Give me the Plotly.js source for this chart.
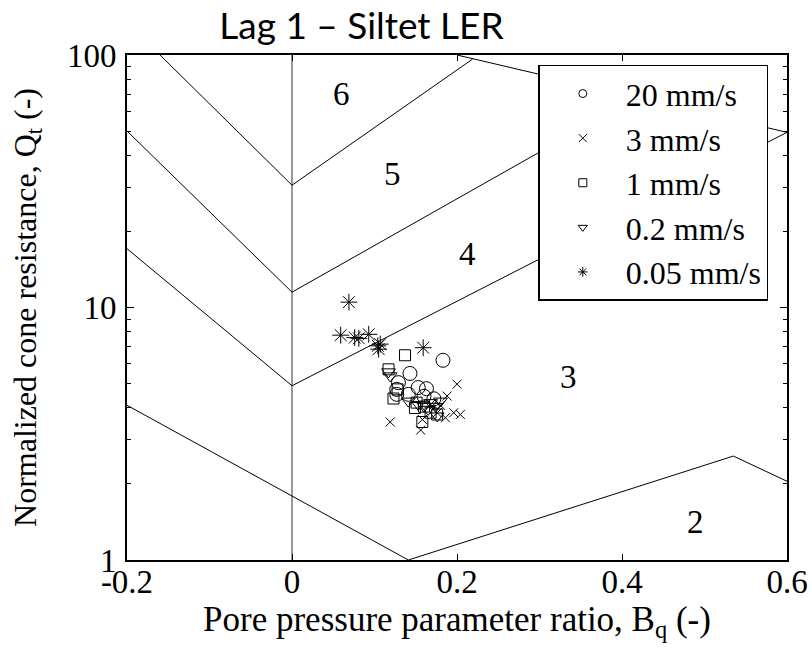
<!DOCTYPE html>
<html>
<head>
<meta charset="utf-8">
<script src="https://cdn.plot.ly/plotly-3.0.1.min.js"></script>
<style>html,body{margin:0;padding:0;background:#fff;}#chart{width:812px;height:654px;}</style>
</head>
<body>
<div id="chart"></div>
<script>
// ---- Series data (Bq, Qt) ----
const seriesNames = ["20 mm/s", "3 mm/s", "1 mm/s", "0.2 mm/s", "0.05 mm/s"];

const bq20 = [0.183, 0.143, 0.129, 0.127, 0.153, 0.163, 0.141, 0.127, 0.160, 0.172];
const qt20 = [6.18, 5.48, 5.04, 4.74, 4.82, 4.77, 4.53, 4.53, 4.45, 4.35];

const bq3 = [0.200, 0.188, 0.119, 0.156, 0.186, 0.196, 0.204, 0.176, 0.168, 0.158, 0.180];
const qt3 = [4.97, 4.46, 3.52, 3.27, 3.66, 3.83, 3.77, 3.83, 4.13, 3.60, 4.10];

const bq1 = [0.137, 0.117, 0.128, 0.123, 0.151, 0.158, 0.149, 0.168, 0.176, 0.160];
const qt1 = [6.47, 5.69, 4.74, 4.36, 4.20, 3.52, 4.00, 3.83, 3.77, 4.05];

const bq02 = [0.117, 0.119, 0.168, 0.174, 0.160, 0.153, 0.176, 0.141, 0.180, 0.165];
const qt02 = [5.56, 5.36, 4.20, 4.06, 4.06, 4.13, 3.72, 4.26, 4.26, 3.95];

const bq005 = [0.069, 0.059, 0.076, 0.081, 0.093, 0.104, 0.107, 0.105, 0.159];
const qt005 = [10.5, 7.77, 7.60, 7.55, 7.83, 7.05, 7.16, 6.84, 6.93];

// ---- Soil-behaviour zone boundaries (Robertson Bq chart) ----
const lineTopX = [-0.16, 0, 0.219];
const lineTopY = [100, 30.5, 96.4];
const lineZone9X = [0.2, 0.6];
const lineZone9Y = [100, 49.4];
const line45X = [-0.2, 0, 0.413];
const line45Y = [50, 11.5, 66.7];
const line34X = [-0.2, 0, 0.6];
const line34Y = [17.1, 4.9, 49.4];
const line23X = [-0.2, 0.141, 0.535, 0.6];
const line23Y = [4.1, 1, 2.58, 2.05];
const lineZeroX = [0, 0];
const lineZeroY = [1, 100];

// ---- Zone labels ----
const zoneText = ["6", "5", "4", "3", "2"];
const zoneX = [0.06, 0.122, 0.213, 0.335, 0.489];
const zoneY = [70, 33.9, 16.3, 5.3, 1.42];

// ---- Ticks ----
const xTickVals = [-0.2, 0, 0.2, 0.4, 0.6];
const xTickText = ["-0.2", "0", "0.2", "0.4", "0.6"];
const yTickVals = [1, 10, 100];
const yTickText = ["1", "10", "100"];

const serif = "Liberation Serif, Times New Roman, serif";
const black = "#000";

function boundary(x, y, color, width) {
  return {x: x, y: y, type: "scatter", mode: "lines", showlegend: false, hoverinfo: "skip",
          line: {color: color, width: width}};
}

const symbols = ["circle-open", "x-thin-open", "square-open", "triangle-down-open", "asterisk-open"];
const plotSizes = [14, 9, 11, 12, 14];
const xs = [bq20, bq3, bq1, bq02, bq005];
const ys = [qt20, qt3, qt1, qt02, qt005];

const traces = [
  boundary(lineZeroX, lineZeroY, "#7f7f7f", 1.6),
  boundary(lineTopX, lineTopY, black, 1),
  boundary(lineZone9X, lineZone9Y, black, 1),
  boundary(line45X, line45Y, black, 1),
  boundary(line34X, line34Y, black, 1),
  boundary(line23X, line23Y, black, 1)
];

for (let i = 0; i < seriesNames.length; i++) {
  traces.push({
    x: xs[i], y: ys[i], type: "scatter", mode: "markers", name: seriesNames[i],
    showlegend: false,
    marker: {symbol: symbols[i], size: plotSizes[i], color: black, line: {color: black, width: 1}}
  });
}
// legend entries (small symbols like the reference legend)
for (let i = 0; i < seriesNames.length; i++) {
  traces.push({
    x: [null], y: [null], type: "scatter", mode: "markers", name: seriesNames[i],
    showlegend: true,
    marker: {symbol: symbols[i], size: 8, color: black, line: {color: black, width: 1}}
  });
}

const annotations = zoneText.map((t, i) => ({
  x: zoneX[i], y: Math.log10(zoneY[i]), xref: "x", yref: "y", text: t, showarrow: false,
  font: {family: serif, size: 33, color: black}
}));

const layout = {
  width: 812, height: 654,
  margin: {l: 127, r: 25, t: 55, b: 94, pad: 0},
  paper_bgcolor: "#fff", plot_bgcolor: "#fff",
  showlegend: true,
  title: {
    text: "Lag 1 – Siltet LER",
    font: {family: "Lato, Open Sans, sans-serif", size: 37, color: black},
    x: 361.5 / 812, xref: "container", xanchor: "center",
    y: 1 - 26.5 / 654, yref: "container", yanchor: "middle"
  },
  xaxis: {
    range: [-0.2, 0.6], tickmode: "array", tickvals: xTickVals, ticktext: xTickText,
    ticks: "inside", ticklen: 6, tickcolor: black, tickwidth: 1,
    showline: true, linecolor: black, linewidth: 2, mirror: "ticks",
    showgrid: false, zeroline: false,
    tickfont: {family: serif, size: 33, color: black},
    ticklabelstandoff: -9,
    title: {text: "Pore pressure parameter ratio, B<sub>q</sub> (-)", font: {family: serif, size: 35, color: black}, standoff: 8}
  },
  yaxis: {
    type: "log", range: [0, 2], dtick: 1, tickmode: "array", tickvals: yTickVals, ticktext: yTickText,
    ticks: "inside", ticklen: 7, tickcolor: black, tickwidth: 1,
    minor: {dtick: "D1", ticks: "inside", ticklen: 4, tickcolor: black, tickwidth: 1, showgrid: false},
    showline: true, linecolor: black, linewidth: 2, mirror: "ticks",
    showgrid: false, zeroline: false,
    tickfont: {family: serif, size: 33, color: black},
    ticklabelstandoff: 2,
    title: {text: "Normalized cone resistance, Q<sub>t</sub> (-)", font: {family: serif, size: 32, color: black}, standoff: 21}
  },
  legend: {
    x: (538.3 - 127) / 660, y: (560 - 66.7) / 503, xanchor: "left", yanchor: "top",
    bgcolor: "#fff", bordercolor: black, borderwidth: 1.5,
    font: {family: serif, size: 32, color: black},
    traceorder: "normal", itemwidth: 76
  },
  annotations: annotations
};

Plotly.newPlot("chart", traces, layout, {displayModeBar: false, staticPlot: true});
</script>
</body>
</html>
